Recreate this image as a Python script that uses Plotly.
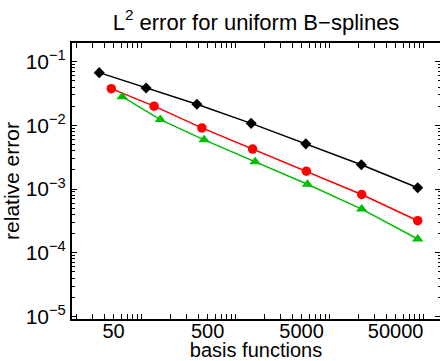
import plotly.graph_objects as go

# data
x_black = [35.2, 111, 385, 1453, 5543, 21600, 85900]
y_black = [0.0672, 0.0387, 0.0215, 0.01074, 0.00512, 0.00240, 0.001045]
x_red = [47.3, 135, 435, 1508, 5620, 21800, 85900]
y_red = [0.0377, 0.0200, 0.00912, 0.00424, 0.00191, 0.00082, 0.000318]
x_green = [61.8, 157, 460, 1603, 5765, 21800, 85900]
y_green = [0.0282, 0.0123, 0.00592, 0.00269, 0.00119, 0.000484, 0.000164]

x_ticks = [50, 500, 5000, 50000]
x_ticktext = ["50", "500", "5000", "50000"]
y_ticks = [1e-1, 1e-2, 1e-3, 1e-4, 1e-5]
y_ticktext = ["10<sup>\u22121</sup>", "10<sup>\u22122</sup>", "10<sup>\u22123</sup>",
              "10<sup>\u22124</sup>", "10<sup>\u22125</sup>"]

x_minor = [m * 10 ** k for k in range(1, 6) for m in range(1, 10)]
y_minor = [m * 10.0 ** k for k in range(-6, 0) for m in range(1, 10)]

FONT = "Liberation Sans, Arial, sans-serif"
FS = 21
green = "rgb(0,190,0)"

fig = go.Figure()
fig.add_trace(go.Scatter(x=x_black, y=y_black, mode="lines+markers",
                         line=dict(color="black", width=1.5),
                         marker=dict(symbol="diamond", size=8.5, color="black")))
fig.add_trace(go.Scatter(x=x_red, y=y_red, mode="lines+markers",
                         line=dict(color="red", width=1.5),
                         marker=dict(symbol="circle", size=9.5, color="red")))
fig.add_trace(go.Scatter(x=x_green, y=y_green, mode="lines+markers",
                         line=dict(color=green, width=1.5),
                         marker=dict(symbol="triangle-up", size=10, color=green)))
# invisible trace for the right-hand tick axis
fig.add_trace(go.Scatter(x=[x_black[0]], y=[y_black[0]], yaxis="y2", mode="markers",
                         marker=dict(opacity=0), hoverinfo="skip"))

yrange = [-5.041, -0.707]
fig.update_layout(
    width=440, height=361,
    margin=dict(l=72, r=0, t=43, b=42),
    paper_bgcolor="white", plot_bgcolor="white",
    showlegend=False,
    font=dict(family=FONT, size=FS, color="black"),
    title=dict(text="L<sup>2</sup> error for uniform B\u2212splines",
               x=0.5, xref="paper", y=1 - 22 / 361, yanchor="middle",
               font=dict(family=FONT, size=22, color="black")),
    xaxis=dict(type="log", range=[1.257, 5.171],
               tickmode="array", tickvals=x_ticks, ticktext=x_ticktext,
               ticks="inside", ticklen=5, tickcolor="black", tickwidth=1,
               ticklabelstandoff=-7,
               showline=True, linecolor="black", linewidth=2, mirror="allticks",
               showgrid=False, zeroline=False,
               minor=dict(tickmode="array", tickvals=x_minor, ticks="inside",
                          ticklen=2.5, tickcolor="black", showgrid=False),
               title=dict(text="basis functions", standoff=5,
                          font=dict(family=FONT, size=20)),
               tickfont=dict(family=FONT, size=20)),
    yaxis=dict(type="log", range=yrange,
               tickmode="array", tickvals=y_ticks, ticktext=y_ticktext,
               ticks="inside", ticklen=5, tickcolor="black", tickwidth=1,
               showline=True, linecolor="black", linewidth=2, mirror=False,
               showgrid=False, zeroline=False,
               minor=dict(tickmode="array", tickvals=y_minor, ticks="inside",
                          ticklen=2.5, tickcolor="black", showgrid=False),
               title=dict(text="relative error", standoff=4,
                          font=dict(family=FONT, size=FS)),
               tickfont=dict(family=FONT, size=FS)),
    yaxis2=dict(type="log", range=yrange, overlaying="y", side="right", anchor="x",
                tickmode="array", tickvals=y_ticks, showticklabels=False,
                ticks="inside", ticklen=5, tickcolor="black", tickwidth=1,
                showline=False, showgrid=False, zeroline=False,
                minor=dict(tickmode="array", tickvals=y_minor, ticks="inside",
                           ticklen=2.5, tickcolor="black", showgrid=False)),
)
fig.write_html("out.html")
